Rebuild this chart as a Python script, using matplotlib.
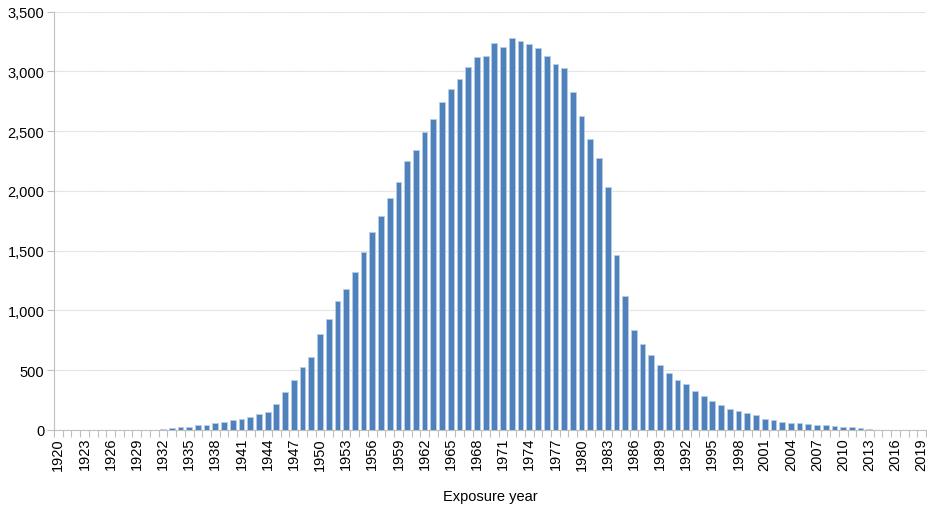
import matplotlib
matplotlib.use("Agg")
import matplotlib.pyplot as plt
from matplotlib.ticker import FuncFormatter, MultipleLocator
import numpy as np

plt.rcParams['font.family'] = ['Liberation Sans', 'DejaVu Sans']

years = list(range(1920, 2020))
values = [
    1, 1, 1, 2, 2, 2, 2, 2, 3, 3, 3, 4,            # 1920-1931
    8, 17, 22, 25, 39, 45, 55, 65, 86, 95,          # 1932-1941
    112, 130, 148, 220, 315, 418, 530, 614,          # 1942-1949
    803, 932, 1077, 1183, 1325, 1487, 1657, 1788,    # 1950-1957
    1942, 2076, 2254, 2344, 2491, 2606, 2742, 2853,  # 1958-1965
    2940, 3040, 3118, 3129, 3238, 3205, 3280, 3252,  # 1966-1973
    3227, 3199, 3129, 3060, 3026, 2826, 2630, 2432,  # 1974-1981
    2279, 2033, 1462, 1122, 837, 720, 628, 547,      # 1982-1989
    477, 418, 382, 329, 282, 243, 209, 176,          # 1990-1997
    159, 142, 123, 95, 86, 67, 61, 57,               # 1998-2005
    47, 42, 38, 33, 25, 21, 16, 8,                   # 2006-2013
    3, 2, 1, 1, 1, 0,                                # 2014-2019
]
x_label = "Exposure year"
tick_step = 3

fig = plt.figure(figsize=(9.27, 5.06), dpi=100)
ax = fig.add_axes([54/927, 75/506, 872/927, (431-12.7)/506])

idx = np.arange(len(years))
ax.bar(idx, values, width=0.66, color='#4F81BD', edgecolor='#B9CDE5', linewidth=0.6, zorder=3)

ax.set_xlim(-0.5, len(years) - 0.5)
ax.set_ylim(0, 3500)
ax.yaxis.set_major_locator(MultipleLocator(500))
ax.yaxis.set_major_formatter(FuncFormatter(lambda v, p: f"{int(v):,}"))
ax.grid(axis='y', color='#D9D9D9', linewidth=0.8, linestyle=(0, (1, 0.5)), zorder=0)

major = idx[::tick_step]
ax.set_xticks(major)
ax.set_xticklabels([str(years[i]) for i in major], rotation=90)
ax.set_xticks(np.arange(-0.5, len(years), 1), minor=True)
ax.tick_params(axis='x', which='major', length=0, pad=5, labelsize=10.5, colors='#000000')
ax.tick_params(axis='x', which='minor', length=5, width=0.8, color='#BFBFBF')
ax.tick_params(axis='y', which='major', length=5, width=0.8, color='#BFBFBF', labelsize=10.5, pad=2)

for s in ['top', 'right']:
    ax.spines[s].set_visible(False)
ax.spines['left'].set_color('#BFBFBF')
ax.spines['bottom'].set_color('#BFBFBF')
ax.spines['left'].set_linewidth(0.8)
ax.spines['bottom'].set_linewidth(0.8)

ax.set_xlabel(x_label, fontsize=10.5, labelpad=14)

fig.savefig("out.png", dpi=100)
